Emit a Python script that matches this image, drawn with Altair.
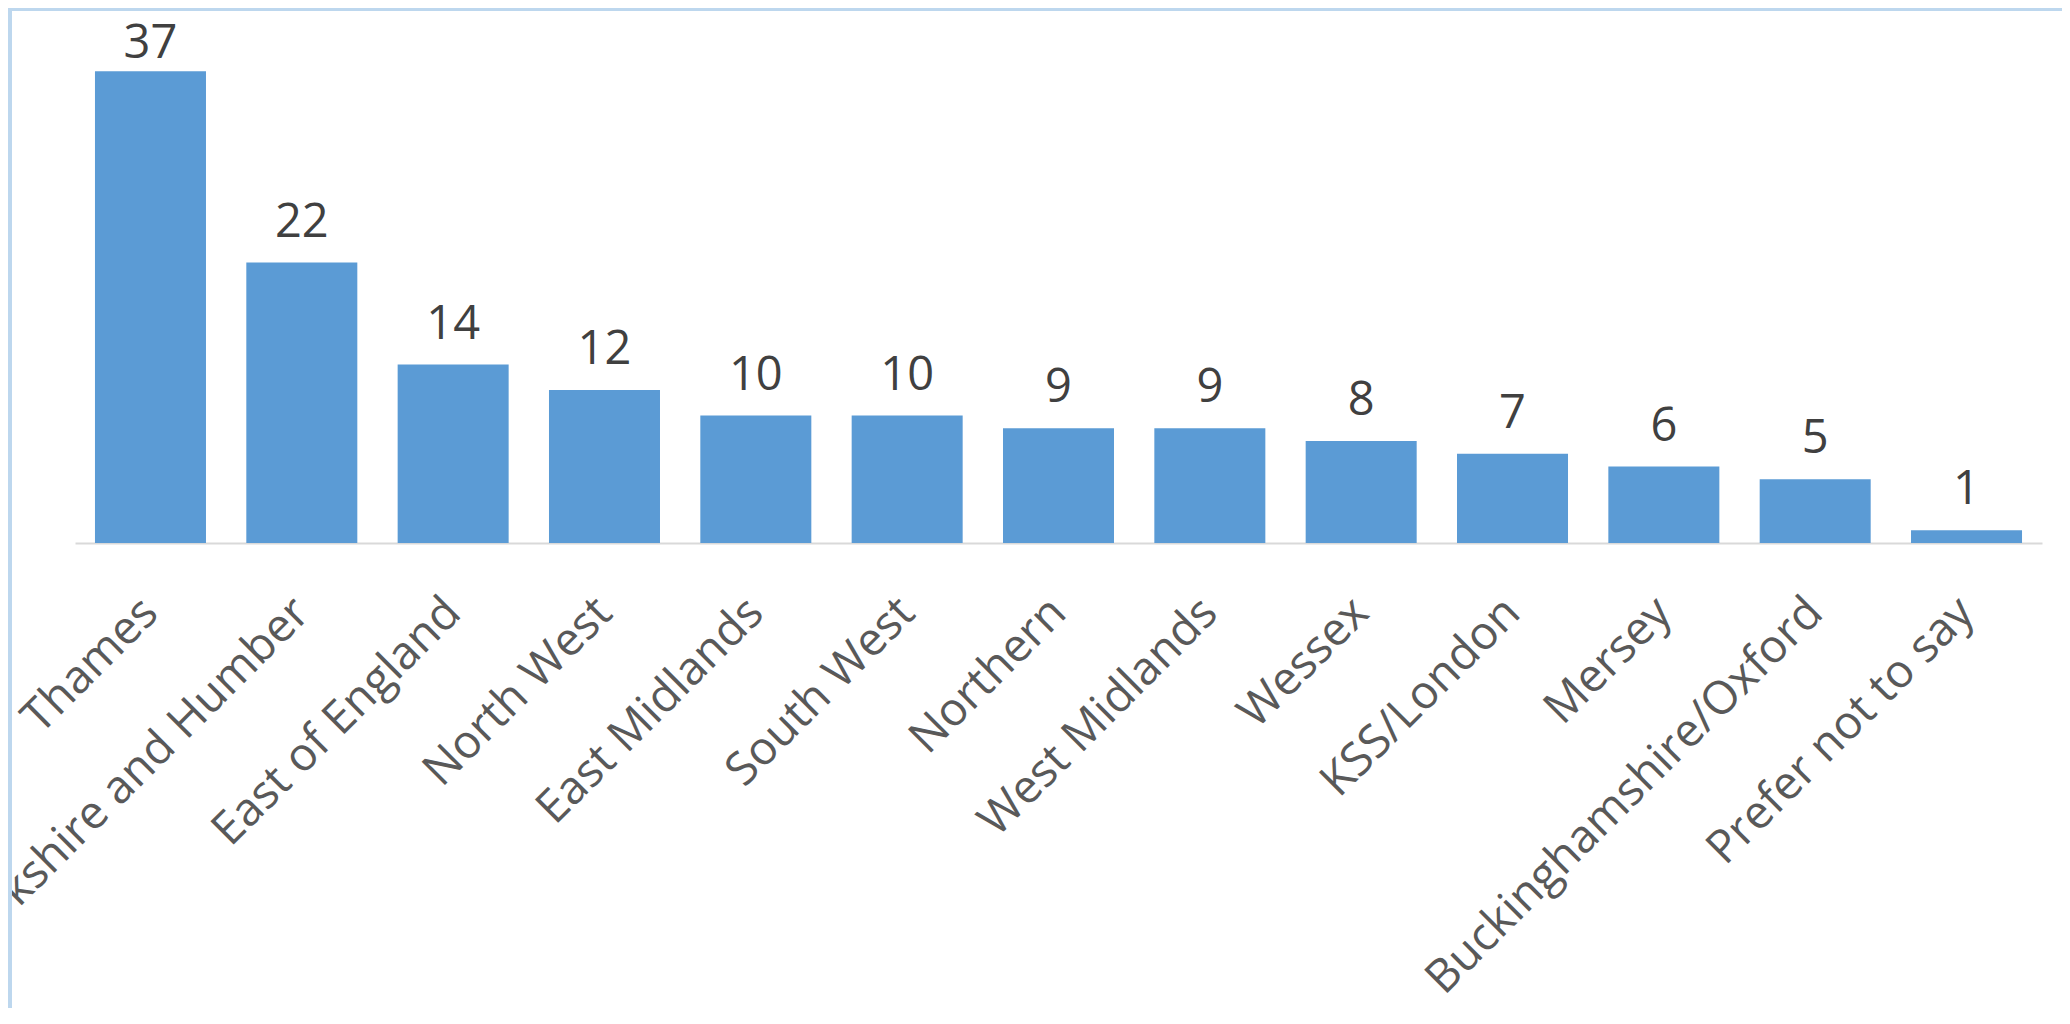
import altair as alt
import pandas as pd

regions = ["Thames", "Yorkshire and Humber", "East of England", "North West",
           "East Midlands", "South West", "Northern", "West Midlands", "Wessex",
           "KSS/London", "Mersey", "Buckinghamshire/Oxford", "Prefer not to say"]
counts = [37, 22, 14, 12, 10, 10, 9, 9, 8, 7, 6, 5, 1]

df = pd.DataFrame({"region": regions, "count": counts})

W, H = 1967, 510
PAD = {"left": 67, "top": 25, "right": 20, "bottom": 465}

x_enc = alt.X(
    "region:N", sort=regions, title=None,
    scale=alt.Scale(paddingInner=0.2665, paddingOuter=0.132),
    axis=alt.Axis(labelAngle=-45, labelAlign="right", labelBaseline="middle",
                  labelPadding=62, ticks=False, domainColor="#D9D9D9",
                  domainWidth=2, labelFont="Open Sans", labelFontSize=46,
                  labelColor="#595959", labelLimit=0, labelOverlap=False,
                  grid=False),
)

y_scale = alt.Scale(domain=[0, 40], nice=False)

bars = alt.Chart(df).mark_bar(color="#5B9BD5").encode(
    x=x_enc,
    y=alt.Y("count:Q", scale=y_scale, axis=None),
)

labels = alt.Chart(df).transform_calculate(
    label_pos="min(datum.count, 36)"
).mark_text(font="Open Sans", fontSize=47, color="#404040",
            baseline="alphabetic", dy=-26).encode(
    x=alt.X("region:N", sort=regions),
    y=alt.Y("label_pos:Q", scale=y_scale, axis=None),
    text="count:Q",
)

frame = alt.Chart(alt.Data(values=[{}]))
top_line = frame.mark_rule(color="#BDD7EE", strokeWidth=3).encode(
    x=alt.value(-PAD["left"]), x2=alt.value(W + PAD["right"]),
    y=alt.value(-PAD["top"] + 1.5))
left_line = frame.mark_rule(color="#BDD7EE", strokeWidth=4).encode(
    x=alt.value(-PAD["left"] + 2), y=alt.value(-PAD["top"]),
    y2=alt.value(H + PAD["bottom"]))

chart = alt.layer(bars, labels, top_line, left_line).properties(
    width=W, height=H,
    autosize=alt.AutoSizeParams(type="none"),
    padding=PAD,
).configure_view(stroke=None)

chart.save("out.html", embed_options={"renderer": "svg", "actions": False})
